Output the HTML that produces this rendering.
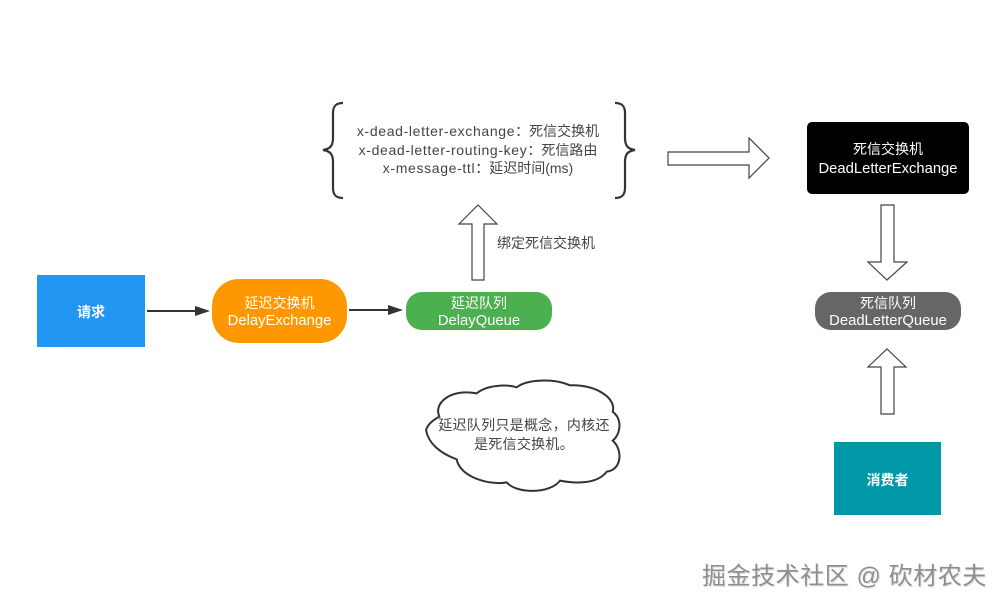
<!DOCTYPE html>
<html><head><meta charset="utf-8"><style>
html,body{margin:0;padding:0;background:#fff}
#c{position:relative;width:1006px;height:609px;overflow:hidden;background:#fff;font-family:"Liberation Sans","Noto Sans CJK SC",sans-serif}
.b{position:absolute;box-sizing:border-box;display:flex;flex-direction:column;align-items:center;justify-content:center;text-align:center;color:#fff;font-size:14px;line-height:18px;white-space:nowrap}
.b span{font-size:14.8px}
.t{position:absolute;text-align:center;color:#444;font-size:14px;line-height:18.5px;white-space:nowrap}
.l{letter-spacing:.65px}
svg{position:absolute;left:0;top:0}
</style></head><body><div id="c">
<svg width="1006" height="609" fill="none">
<path d="M343 103C336 103 333 106 333 113V138C333 146 330 149 323 150C330 151 333 154 333 162V188C333 195 336 198 343 198M615 103C622 103 625 106 625 113V138C625 146 628 149 635 150C628 151 625 154 625 162V188C625 195 622 198 615 198" stroke="#333" stroke-width="2.2"/>
<path d="M147 311H198" stroke="#333" stroke-width="2"/><path d="M210 311L195 306V316Z" fill="#333"/>
<path d="M349 310H391" stroke="#333" stroke-width="2"/><path d="M403 310L388 305V315Z" fill="#333"/>
<g fill="#fff" stroke="#444" stroke-width="1.2">
<path d="M472 280V224H459L478 205L497 224H484V280Z"/>
<path d="M668 152H749V138L769 158L749 178V165H668Z"/>
<path d="M881 205H894V262H907L887 280L868 262H881Z"/>
<path d="M881 414V367H868L887 349L906 367H894V414Z"/>
</g>
<path transform="translate(410 370) scale(.33333)" d="M48 180C55 160 70 150 88 140C70 100 120 55 200 70C230 45 290 42 320 52C350 28 430 24 480 46C560 44 620 85 608 125C640 150 630 195 608 212C640 240 635 300 590 305C560 345 490 340 450 332C420 372 320 372 290 337C240 347 150 322 140 268C90 250 55 220 48 180Z" fill="#fff" stroke="#333" stroke-width="6"/>
</svg>
<div class="b" style="left:37px;top:275px;width:108px;height:72px;padding-top:2px;background:#2196f3;font-weight:bold">请求</div>
<div class="b" style="left:212px;top:279px;width:135px;height:64px;padding-top:2px;background:#ff9800;border-radius:27px"><div>延迟交换机</div><span>DelayExchange</span></div>
<div class="b" style="left:406px;top:292px;width:146px;height:38px;padding-top:2px;background:#4caf50;border-radius:16px"><div>延迟队列</div><span>DelayQueue</span></div>
<div class="t" style="left:340px;top:122px;width:276px"><span class="l">x-dead-letter-exchange</span>：死信交换机<br><span class="l">x-dead-letter-routing-key</span>：死信路由<br><span class="l">x-message-ttl</span>：延迟时间(ms)</div>
<div class="t" style="left:497px;top:234px">绑定死信交换机</div>
<div class="t" style="left:424px;top:416px;width:200px;letter-spacing:.3px">延迟队列只是概念，内核还<br>是死信交换机。</div>
<div class="b" style="left:807px;top:122px;width:162px;height:72px;padding-top:1px;background:#000;border-radius:5px;line-height:20px"><div>死信交换机</div><span>DeadLetterExchange</span></div>
<div class="b" style="left:815px;top:292px;width:146px;height:38px;padding-top:2px;background:#666;border-radius:16px"><div>死信队列</div><span>DeadLetterQueue</span></div>
<div class="b" style="left:834px;top:442px;width:107px;height:73px;padding-top:2px;background:#0097a7;font-weight:bold">消费者</div>
<div class="t" style="left:702px;top:562px;font-size:24px;line-height:30px;letter-spacing:.55px;color:#8e8e8e;text-shadow:1px 1px 1px #ddd">掘金技术社区 @ 砍材农夫</div>
</div></body></html>
